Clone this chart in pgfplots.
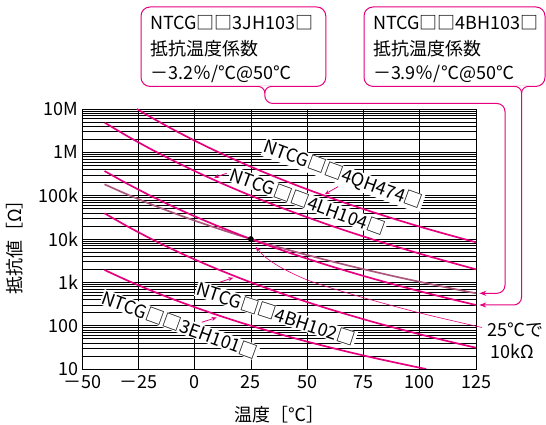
\documentclass[border=0pt]{standalone}
\usepackage{fontspec}
\setmainfont{Noto Sans CJK JP}
\usepackage{pgfplots}
\pgfplotsset{compat=1.18}
\usetikzlibrary{arrows.meta}
\definecolor{mg}{RGB}{230,0,126}
\definecolor{mv}{RGB}{172,88,126}
\begin{document}
\begin{tikzpicture}[font=\fontsize{18bp}{21bp}\selectfont]
\useasboundingbox (0,0) rectangle (546bp,425bp);
\begin{axis}[
  at={(82bp,56bp)}, anchor=south west,
  scale only axis, width=394bp, height=260bp,
  xmin=-50, xmax=125, ymode=log, ymin=10, ymax=10000000,
  xtick={-50,-25,0,25,50,75,100,125},
  xticklabels={－50,－25,0,25,50,75,100,125},
  ytick={10,100,1000,10000,100000,1000000,10000000},
  yticklabels={10,100,1k,10k,100k,1M,10M},
  minor ytick={20,30,40,50,60,70,80,90,200,300,400,500,600,700,800,900,2000,3000,4000,5000,6000,7000,8000,9000,20000,30000,40000,50000,60000,70000,80000,90000,200000,300000,400000,500000,600000,700000,800000,900000,2000000,3000000,4000000,5000000,6000000,7000000,8000000,9000000},
  major tick length=0pt, minor tick length=0pt,
  tick label style={font=\fontsize{18bp}{21bp}\selectfont},
  xticklabel style={yshift=-3bp},
  xmajorgrids, ymajorgrids, yminorgrids,
  major grid style={black, line width=0.7pt},
  minor grid style={black, line width=0.45pt},
  axis line style={black, line width=0.8pt},
]
% 3JH103 (mauve)
\addplot[mv, line width=1.7bp, smooth] coordinates {(-40,183000) (-30,107300) (-20,65300) (-10,41100) (0,26600) (10,17670) (20,12020) (25,10000) (30,8360) (40,5920) (50,4270) (60,3130) (70,2320) (80,1750) (90,1330) (100,1027) (110,800) (120,628) (125,559)};
% 4QH474
\addplot[mg, line width=1.7bp, smooth] coordinates {(-25.6,10000000) (-20,6740000) (-10,3469000) (0,1865000) (10,1042000) (20,603700) (25,465000) (30,360900) (40,222000) (50,140200) (60,90700) (70,59900) (80,40400) (90,27700) (100,19300) (110,13700) (120,9860) (125,8400)};
% 4LH104
\addplot[mg, line width=1.7bp, smooth] coordinates {(-39.9,4830000) (-30,2391000) (-20,1233000) (-10,663800) (0,371200) (10,214800) (20,128100) (25,100000) (30,78600) (40,49400) (50,31800) (60,20800) (70,13900) (80,9480) (90,6560) (100,4590) (110,3270) (120,2350) (125,2000)};
% 4BH103
\addplot[mg, line width=1.7bp, smooth] coordinates {(-40,370900) (-30,190200) (-20,102300) (-10,57400) (0,33500) (10,20200) (20,12550) (25,10000) (30,8020) (40,5250) (50,3520) (60,2400) (70,1674) (80,1186) (90,853) (100,623) (110,461) (120,345) (125,300)};
% 4BH102
\addplot[mg, line width=1.7bp, smooth] coordinates {(-40,39200) (-30,19800) (-20,10520) (-10,5850) (0,3380) (10,2030) (20,1257) (25,1000) (30,801) (40,524) (50,351) (60,240) (70,168) (80,119) (90,86.3) (100,63.3) (110,47.1) (120,35.5) (125,31.0)};
% 3EH101
\addplot[mg, line width=1.7bp, smooth] coordinates {(-40,1930) (-30,1113) (-20,668) (-10,416) (0,268) (10,177) (20,120) (25,100) (30,83.6) (40,59.3) (50,42.9) (60,31.6) (70,23.6) (80,17.9) (90,13.8) (100,10.7) (102.9,10)};
% 25C, 10k point
\addplot[only marks, mark=*, mark size=2.6bp, black] coordinates {(25,10000)};
\end{axis}
\begin{scope}[shift={(0,425bp)}, x=1bp, y=-1bp]
\tikzset{ar/.style={mg, line width=0.8bp, -{Stealth[length=5bp,width=4bp]}}}
% curve labels
\node[fill=white, inner sep=0.8bp, rotate=-20] at (343,175.5) {NTCG□□4QH474□};
\node[fill=white, inner sep=0.8bp, rotate=-20] at (307.5,201.7) {NTCG□□4LH104□};
\node[fill=white, inner sep=0.8bp, rotate=-18] at (276,314) {NTCG□□4BH102□};
\node[fill=white, inner sep=0.8bp, rotate=-20] at (180,325) {NTCG□□3EH101□};
\draw[ar] (338,186.7) -- (324.7,194.3);
\draw[ar] (226.7,173.3) -- (214,177.7);
\draw[ar] (219.5,282.3) -- (233.3,277.7);
\draw[ar] (201.7,322.3) -- (216.7,317.5);
% annotation 25C 10k
\draw[mg, line width=0.6bp, -{Stealth[length=6bp,width=4bp]}] plot[smooth] coordinates {(482,327.5) (420,313) (361,297) (310,281) (280,267) (264,256) (255.5,246.5)};
\node[anchor=base west, inner sep=0] at (487,337) {25℃で};
\node[anchor=base west, inner sep=0] at (490,359) {10kΩ};
% callout boxes
\draw[mg, line width=1bp, rounded corners=9bp] (141,7) rectangle (325.8,86.4);
\draw[mg, line width=1bp, rounded corners=9bp] (364,7) rectangle (545,86.4);
\draw[white, line width=1.6bp] (258,86.4) -- (271.5,86.4);
\draw[white, line width=1.6bp] (514.5,86.4) -- (528,86.4);
\draw[mg, line width=1bp] (257.8,86.4) to[out=0,in=90] (264.8,93);
\draw[mg, line width=1bp] (271.8,86.4) to[out=180,in=90] (264.8,93);
\draw[mg, line width=1bp] (514.6,86.4) to[out=0,in=90] (521.6,93);
\draw[mg, line width=1bp] (528.6,86.4) to[out=180,in=90] (521.6,93);
\draw[mg, line width=1bp, rounded corners=8bp, -{Stealth[length=7bp,width=5bp]}] (264.8,93) -- (264.8,103.5) -- (505,103.5) -- (505,293.3) -- (479.3,293.3);
\draw[mg, line width=1bp, rounded corners=8bp, -{Stealth[length=7bp,width=5bp]}] (521.6,93) -- (521.6,305) -- (479.3,305);
\node[anchor=base west, inner sep=0] at (150,29.2) {NTCG□□3JH103□};
\node[anchor=base west, inner sep=0] at (150,55.4) {抵抗温度係数};
\node[anchor=base west, inner sep=0] at (150,79.8) {－3.2％/℃@50℃};
\node[anchor=base west, inner sep=0] at (372.8,29.2) {NTCG□□4BH103□};
\node[anchor=base west, inner sep=0] at (372.8,55.4) {抵抗温度係数};
\node[anchor=base west, inner sep=0] at (372.8,79.8) {－3.9％/℃@50℃};
% axis labels
\node at (279,415) {温度［℃］};
\node[rotate=90] at (15,243) {抵抗値［Ω］};
\end{scope}
\end{tikzpicture}
\end{document}
